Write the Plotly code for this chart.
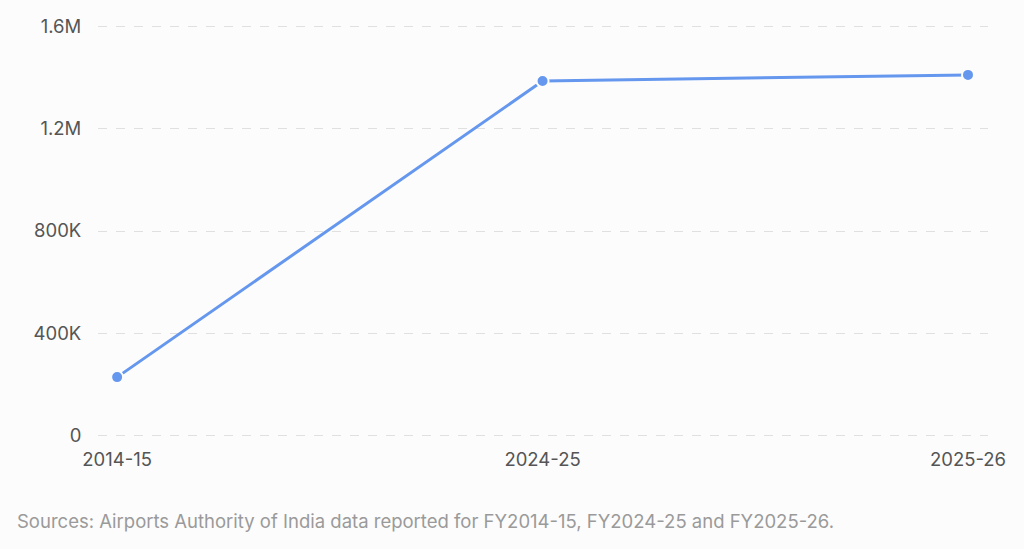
import plotly.graph_objects as go

# fiscal years and passenger counts
years = ["2014-15", "2024-25", "2025-26"]
passengers = [229000, 1386000, 1410000]

y_ticks = [0, 400000, 800000, 1200000, 1600000]
y_labels = ["0", "400K", "800K", "1.2M", "1.6M"]

note = "Sources: Airports Authority of India data reported for FY2014-15, FY2024-25 and FY2025-26."

fig = go.Figure()
fig.add_trace(go.Scatter(
    x=years, y=passengers, mode="lines+markers",
    line=dict(color="#6597ee", width=3),
    marker=dict(size=12, color="#6597ee", line=dict(color="#fcfcfc", width=2)),
    hoverinfo="x+y", showlegend=False,
))

fig.update_layout(
    width=1024, height=549,
    margin=dict(l=98, r=36, t=25, b=112),
    paper_bgcolor="#fcfcfc", plot_bgcolor="#fcfcfc",
    font=dict(family="Inter, Roboto, sans-serif", size=18.5, color="#555555"),
    xaxis=dict(
        type="category", range=[-0.045, 2.047],
        showgrid=False, zeroline=False, showline=False,
        ticks="outside", ticklen=6, tickcolor="rgba(0,0,0,0)",
    ),
    yaxis=dict(
        range=[-5000, 1605000], tickvals=y_ticks, ticktext=y_labels,
        showgrid=True, gridcolor="#e0e0e0", griddash="dash", gridwidth=1,
        zeroline=False, showline=False,
        ticks="outside", ticklen=12, tickcolor="rgba(0,0,0,0)",
    ),
    annotations=[dict(
        text=note, xref="paper", yref="paper", x=-83 / 890, y=-84 / 412,
        xanchor="left", yanchor="middle", showarrow=False,
        font=dict(size=18.5, color="#9a9a9a"),
    )],
)

fig.write_html("out.html", config={"displayModeBar": False},
               post_script="document.body.style.margin='0';")
